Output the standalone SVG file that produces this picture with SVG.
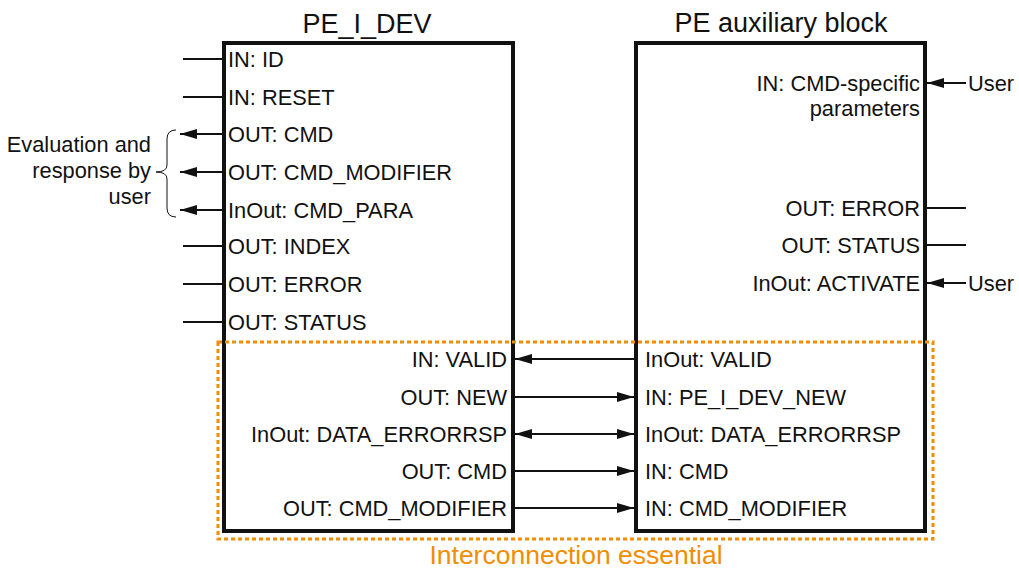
<svg xmlns="http://www.w3.org/2000/svg" width="1019" height="569" viewBox="0 0 1019 569">
<style>
text{font-family:"Liberation Sans",Arial,sans-serif;font-size:21.8px;fill:#111}
.title{font-size:27px}
.r{text-anchor:end}
.box{fill:#fff;stroke:#111;stroke-width:4}
.c{stroke:#111;stroke-width:2;fill:none}
.orange{fill:#F28C00;font-size:26.5px;text-anchor:middle}
</style>
<defs>
<marker id="ah" markerUnits="userSpaceOnUse" markerWidth="17" markerHeight="10" refX="17" refY="5" orient="auto-start-reverse">
<path d="M0,0 L17,5 L0,10 z" fill="#111"/>
</marker>
</defs>
<g id="pe_i_dev">
<rect class="box" x="224" y="43" width="289" height="488"/>
<text class="title" x="367" y="33" text-anchor="middle">PE_I_DEV</text>
<text x="228" y="67">IN: ID</text>
<text x="228" y="105">IN: RESET</text>
<text x="228" y="142">OUT: CMD</text>
<text x="228" y="180">OUT: CMD_MODIFIER</text>
<text x="228" y="218">InOut: CMD_PARA</text>
<text x="228" y="254">OUT: INDEX</text>
<text x="228" y="292">OUT: ERROR</text>
<text x="228" y="330">OUT: STATUS</text>
<text class="r" x="507" y="367">IN: VALID</text>
<text class="r" x="507" y="405">OUT: NEW</text>
<text class="r" x="507" y="442">InOut: DATA_ERRORRSP</text>
<text class="r" x="507" y="479">OUT: CMD</text>
<text class="r" x="507" y="516">OUT: CMD_MODIFIER</text>
</g>
<g id="pe_aux">
<rect class="box" x="636" y="43" width="289" height="488"/>
<text class="title" x="781" y="32" text-anchor="middle">PE auxiliary block</text>
<text class="r" x="920" y="91">IN: CMD-specific</text>
<text class="r" x="920" y="116">parameters</text>
<text class="r" x="920" y="216">OUT: ERROR</text>
<text class="r" x="920" y="253">OUT: STATUS</text>
<text class="r" x="920" y="291">InOut: ACTIVATE</text>
<text x="645" y="367">InOut: VALID</text>
<text x="645" y="405">IN: PE_I_DEV_NEW</text>
<text x="645" y="442">InOut: DATA_ERRORRSP</text>
<text x="645" y="479">IN: CMD</text>
<text x="645" y="516">IN: CMD_MODIFIER</text>
</g>
<g id="user_eval">
<text class="r" x="151" y="152">Evaluation and</text>
<text class="r" x="151" y="178">response by</text>
<text class="r" x="151" y="204">user</text>
<path class="c" style="stroke-width:1" d="M176,130 Q167,130 167,139 L167,165 Q167,172 156,172 Q167,172 167,179 L167,208 Q167,217 176,217"/>
</g>
<g id="users">
<text x="968" y="91">User</text>
<text x="968" y="291">User</text>
</g>
<g id="interconnection">
<rect x="218" y="342" width="715" height="197" fill="none" stroke="#F28C00" stroke-width="3" stroke-dasharray="4 3"/>
<text class="orange" x="576" y="564">Interconnection essential</text>
</g>
<g id="connectors">
<line class="c" x1="183" y1="59" x2="222" y2="59"/>
<line class="c" x1="183" y1="97" x2="222" y2="97"/>
<line class="c" x1="222" y1="134" x2="180" y2="134" marker-end="url(#ah)"/>
<line class="c" x1="222" y1="172" x2="180" y2="172" marker-end="url(#ah)"/>
<line class="c" x1="222" y1="210" x2="180" y2="210" marker-end="url(#ah)"/>
<line class="c" x1="183" y1="246" x2="222" y2="246"/>
<line class="c" x1="183" y1="284" x2="222" y2="284"/>
<line class="c" x1="183" y1="322" x2="222" y2="322"/>
<line class="c" x1="966" y1="83" x2="927" y2="83" marker-end="url(#ah)"/>
<line class="c" x1="927" y1="208" x2="966" y2="208"/>
<line class="c" x1="927" y1="245" x2="966" y2="245"/>
<line class="c" x1="966" y1="283" x2="927" y2="283" marker-end="url(#ah)"/>
<line class="c" x1="634" y1="359" x2="515" y2="359" marker-end="url(#ah)"/>
<line class="c" x1="515" y1="397" x2="634" y2="397" marker-end="url(#ah)"/>
<line class="c" x1="515" y1="434" x2="634" y2="434" marker-start="url(#ah)" marker-end="url(#ah)"/>
<line class="c" x1="515" y1="471" x2="634" y2="471" marker-end="url(#ah)"/>
<line class="c" x1="515" y1="508" x2="634" y2="508" marker-end="url(#ah)"/>
</g>
</svg>
